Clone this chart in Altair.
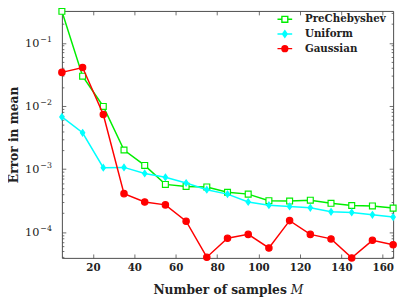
import altair as alt
import pandas as pd

# ---- data ----
M_vals = [5, 15, 25, 35, 45, 55, 65, 75, 85, 95, 105, 115, 125, 135, 145, 155, 165]
pre_cheb = [0.316, 0.0296, 0.0098, 0.0020, 0.00114, 0.00057, 0.00053, 0.00052, 0.000427,
            0.000400, 0.000315, 0.00031, 0.00032, 0.000286, 0.000264, 0.00026, 0.00024]
uniform = [0.0067, 0.00375, 0.00105, 0.00106, 0.00085, 0.00074, 0.00060, 0.00047, 0.00040,
           0.00030, 0.000267, 0.000255, 0.000243, 0.00021, 0.000205, 0.000188, 0.000173]
gaussian = [0.034, 0.0406, 0.0073, 0.000407, 0.00030, 0.00027, 0.000149, 0.000040, 0.000080,
            0.000092, 0.000056, 0.000152, 0.000092, 0.000078, 0.000039, 0.000074, 0.000063]

series_names = ["PreChebyshev", "Uniform", "Gaussian"]
series_values = [pre_cheb, uniform, gaussian]

x_ticks = [20, 40, 60, 80, 100, 120, 140, 160]
y_ticks = [1e-4, 1e-3, 1e-2, 1e-1]
y_tick_base = ["10", "10", "10", "10"]
y_tick_exp = ["−4", "−3", "−2", "−1"]
y_minor = [m * 10.0 ** k for k in range(-5, 0) for m in range(2, 10)]

x_domain = [5, 165]
y_domain = [3.9e-5, 0.32]

# ---- tables ----
rows = []
for name, vals in zip(series_names, series_values):
    for m, v in zip(M_vals, vals):
        rows.append({"M": m, "err": v, "series": name})
df = pd.DataFrame(rows)
tick_df = pd.DataFrame({"err": y_ticks, "base": y_tick_base, "exp": y_tick_exp})

FONT = "DejaVu Serif"
GREY = "#4a4a4a"
TXT = "#222"
colors = ["#00ee00", "#00ffff", "#ff0000"]
fills = ["white", "#00ffff", "#ff0000"]

xscale = alt.Scale(domain=x_domain, nice=False, zero=False)
yscale = alt.Scale(type="log", domain=y_domain, nice=False)

base = alt.Chart(df)

# main axes: bottom + left, inward ticks
axis_bl = base.mark_point(opacity=0).encode(
    x=alt.X("M:Q", scale=xscale, axis=alt.Axis(
        orient="bottom", values=x_ticks, offset=-4, tickSize=4, labelPadding=5,
        title="Number of samples", titleX=229, titleY=40, titleAlign="right",
        titleBaseline="alphabetic", titleFontStyle="normal")),
    y=alt.Y("err:Q", scale=yscale, axis=alt.Axis(
        orient="left", values=y_ticks, labels=False, offset=-4, tickSize=4,
        title="Error in mean", titleX=-53, titleY=126,
        titleAngle=270, titleAlign="center", titleBaseline="middle")),
)
# top + right major ticks
axis_tr = base.mark_point(opacity=0).encode(
    x=alt.X("M:Q", scale=xscale, axis=alt.Axis(
        orient="top", values=x_ticks, offset=-4, tickSize=4, labels=False, title=None)),
    y=alt.Y("err:Q", scale=yscale, axis=alt.Axis(
        orient="right", values=y_ticks, offset=-4, tickSize=4, labels=False, title=None)),
)
# minor ticks left (+ italic M of the x title)
minor_l = base.mark_point(opacity=0).encode(
    x=alt.X("M:Q", scale=xscale, axis=alt.Axis(
        orient="bottom", values=[], ticks=False, labels=False, offset=-4,
        title="M", titleFontStyle="italic", titleFontWeight="normal",
        titleX=233, titleY=40, titleAlign="left", titleBaseline="alphabetic")),
    y=alt.Y("err:Q", scale=yscale, axis=alt.Axis(
        orient="left", values=y_minor, offset=-2, tickSize=2, labels=False, title=None)),
)
minor_r = base.mark_point(opacity=0).encode(
    x=alt.X("M:Q", scale=xscale, axis=None),
    y=alt.Y("err:Q", scale=yscale, axis=alt.Axis(
        orient="right", values=y_minor, offset=-2, tickSize=2, labels=False, title=None)),
)

# y tick labels as 10 with raised exponent
tick_base = alt.Chart(tick_df).mark_text(
    align="right", baseline="alphabetic", dy=4, font=FONT, fontSize=11.5, color=TXT
).encode(x=alt.value(-23), y=alt.Y("err:Q", scale=yscale, axis=None), text="base:N")
tick_exp = alt.Chart(tick_df).mark_text(
    align="left", baseline="alphabetic", dy=-1, font=FONT, fontSize=8, color=TXT
).encode(x=alt.value(-22), y=alt.Y("err:Q", scale=yscale, axis=None), text="exp:N")

# data layers
shapes = ["square", "M0,-1L0.7,0L0,1L-0.7,0Z", "circle"]
sizes = [36, 40, 42]
data_layers = []
for name, col, fil, shp, sz in zip(series_names, colors, fills, shapes, sizes):
    sub = base.transform_filter(alt.datum.series == name)
    enc = dict(x=alt.X("M:Q", scale=xscale, axis=None),
               y=alt.Y("err:Q", scale=yscale, axis=None))
    data_layers.append(sub.mark_line(color=col, strokeWidth=1.5, clip=False).encode(**enc))
    data_layers.append(sub.mark_point(shape=shp, size=sz, stroke=col, fill=fil,
                                      fillOpacity=1, strokeWidth=1.2, opacity=1,
                                      clip=False).encode(**enc))


# legend from scales (line + marker symbols, solid markers drawn as nested outlines)
def ring(r):
    return f"M{-r},0A{r},{r},0,1,1,{r},0A{r},{r},0,1,1,{-r},0"


def rhomb(h, w):
    return f"M0,{-h}L{w},0L0,{h}L{-w},0Z"


legend_paths = [
    "M-1,0H-0.4M0.4,0H1M-0.4,-0.4H0.4V0.4H-0.4Z",
    "M-1,0H1" + rhomb(0.45, 0.32) + rhomb(0.28, 0.2) + rhomb(0.12, 0.08),
    "M-1,0H1" + ring(0.4) + ring(0.26) + ring(0.12),
]
leg = alt.Legend(title=None, orient="none", legendX=219, legendY=0, symbolSize=225,
                 symbolStrokeWidth=1.4, labelOffset=12, rowPadding=0, padding=0,
                 labelFont=FONT, labelFontWeight="bold", labelFontSize=10.5,
                 labelColor=TXT, labelLimit=300, symbolOpacity=1)
legend_layer = base.mark_point(opacity=0, filled=False, strokeWidth=1.4).encode(
    x=alt.X("M:Q", scale=xscale, axis=None),
    y=alt.Y("err:Q", scale=yscale, axis=None),
    shape=alt.Shape("series:N", scale=alt.Scale(domain=series_names, range=legend_paths), legend=leg),
    stroke=alt.Stroke("series:N", scale=alt.Scale(domain=series_names, range=colors), legend=leg),
)

chart = alt.layer(
    axis_bl, axis_tr, minor_l, minor_r, tick_base, tick_exp, *data_layers, legend_layer
).resolve_axis(x="independent", y="independent").properties(
    width=338, height=252,
    autosize=alt.AutoSizeParams(type="none"),
    padding={"left": 55, "top": 0, "right": 6, "bottom": 42},
).configure_axis(
    grid=False, domain=False, tickColor=GREY, tickWidth=0.8,
    labelFont=FONT, labelFontWeight="bold", labelFontSize=10.5, labelColor=TXT,
    titleFont=FONT, titleFontWeight="bold", titleFontSize=12.5, titleColor=TXT,
).configure_view(stroke=GREY, strokeWidth=1)

chart.save("out.html", embed_options={"renderer": "svg", "actions": False})
